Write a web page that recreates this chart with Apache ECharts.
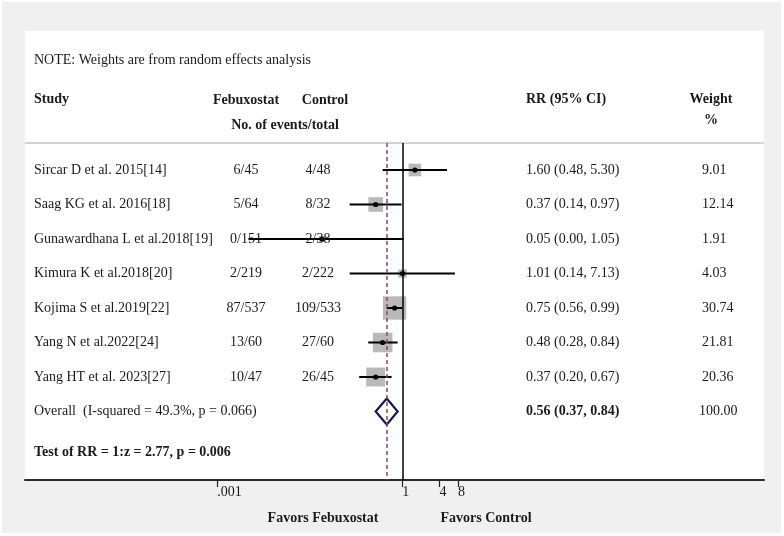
<!DOCTYPE html>
<html>
<head>
<meta charset="utf-8">
<script src="https://cdn.jsdelivr.net/npm/echarts@6/dist/echarts.min.js"></script>
<style>
  html, body { margin: 0; padding: 0; background: #fff; }
  #chart { width: 784px; height: 536px; }
</style>
</head>
<body>
<div id="chart"></div>
<script>
// study data
const studies = [
  "Sircar D et al. 2015[14]",
  "Saag KG et al. 2016[18]",
  "Gunawardhana L et al.2018[19]",
  "Kimura K et al.2018[20]",
  "Kojima S et al.2019[22]",
  "Yang N et al.2022[24]",
  "Yang HT et al. 2023[27]"
];
const febuxostat = ["6/45", "5/64", "0/151", "2/219", "87/537", "13/60", "10/47"];
const control = ["4/48", "8/32", "2/38", "2/222", "109/533", "27/60", "26/45"];
const rr = [1.60, 0.37, 0.05, 1.01, 0.75, 0.48, 0.37];
const ciLow = [0.48, 0.14, 0.0032, 0.14, 0.56, 0.28, 0.20];
const ciHigh = [5.30, 0.97, 1.05, 7.13, 0.99, 0.84, 0.67];
const weights = [9.01, 12.14, 1.91, 4.03, 30.74, 21.81, 20.36];

const overall = { label: "Overall  (I-squared = 49.3%, p = 0.066)", rr: 0.56, low: 0.37, high: 0.84, weight: "100.00" };
const testLine = "Test of RR = 1:z = 2.77, p = 0.006";

const tickValues = [0.001, 1, 4, 8];
const tickLabels = [".001", "1", "4", "8"];

const FONT = "'Liberation Serif', 'Times New Roman', serif";
const INK = "#1a1a1a";
const lg = v => Math.log10(v);
const fmt = v => v.toFixed(2);

const chart = echarts.init(document.getElementById("chart"));

// forest rows: [logRR, logLow, logHigh, row, weight]
const forestData = rr.map((v, i) => [lg(v), lg(ciLow[i]), lg(ciHigh[i]), i, weights[i]]);
const tableData = studies.map((s, i) => [0, i]);
tableData.push([0, studies.length]);

function renderForest(params, api) {
  const y = api.coord([0, api.value(3)])[1];
  const x = api.coord([api.value(0), 0])[0];
  const x0 = api.coord([api.value(1), 0])[0];
  const x1 = api.coord([api.value(2), 0])[0];
  const side = 4.2 * Math.sqrt(api.value(4));
  return {
    type: "group",
    children: [
      { type: "rect", shape: { x: x - side / 2, y: y - side / 2, width: side, height: side }, style: { fill: "#b9b9b9" } },
      { type: "line", shape: { x1: x0, y1: y, x2: x1, y2: y }, style: { stroke: "#000", lineWidth: 2 } },
      { type: "circle", shape: { cx: x, cy: y, r: 2.6 }, style: { fill: "#000" } }
    ]
  };
}

function renderDiamond(params, api) {
  const y = api.coord([0, api.value(3)])[1];
  const x = api.coord([api.value(0), 0])[0];
  const x0 = api.coord([api.value(1), 0])[0];
  const x1 = api.coord([api.value(2), 0])[0];
  const h = 13;
  return {
    type: "polygon",
    shape: { points: [[x0, y], [x, y - h], [x1, y], [x, y + h]] },
    style: { fill: "none", stroke: "#16165c", lineWidth: 2.2 }
  };
}

function txt(x, y, text, opts) {
  return {
    type: "text", x: x, y: y,
    style: Object.assign({ text: text, fill: INK, font: "14px " + FONT, textVerticalAlign: "middle", textAlign: "left" }, opts || {})
  };
}

function renderTable(params, api) {
  const i = api.value(1);
  const y = api.coord([0, i])[1];
  if (i < studies.length) {
    return {
      type: "group",
      children: [
        txt(34, y, studies[i]),
        txt(246, y, febuxostat[i], { textAlign: "center" }),
        txt(318, y, control[i], { textAlign: "center" }),
        txt(526, y, fmt(rr[i]) + " (" + fmt(ciLow[i]) + ", " + fmt(ciHigh[i]) + ")"),
        txt(702, y, fmt(weights[i]))
      ]
    };
  }
  return {
    type: "group",
    children: [
      txt(34, y, overall.label),
      txt(526, y, fmt(overall.rr) + " (" + fmt(overall.low) + ", " + fmt(overall.high) + ")", { font: "bold 14px " + FONT }),
      txt(699, y, overall.weight)
    ]
  };
}

const tickLogs = tickValues.map(lg);
const labelFor = v => {
  const k = tickLogs.findIndex(t => Math.abs(t - v) < 1e-6);
  return k >= 0 ? tickLabels[k] : "";
};

const bold = "bold 14px " + FONT;
const option = {
  animation: false,
  backgroundColor: "#fff",
  graphic: [
    { type: "rect", z: -10, shape: { x: 2, y: 2, width: 779, height: 531 }, style: { fill: "#f0f0f0" } },
    { type: "rect", z: -9, shape: { x: 25, y: 31, width: 739, height: 449 }, style: { fill: "#fff" } },
    { type: "line", z: -8, shape: { x1: 25, y1: 143, x2: 764, y2: 143 }, style: { stroke: "#c4c4c4", lineWidth: 1.5 } },
    txt(34, 60, "NOTE: Weights are from random effects analysis"),
    txt(34, 99, "Study", { font: bold }),
    txt(246, 100, "Febuxostat", { font: bold, textAlign: "center" }),
    txt(325, 100, "Control", { font: bold, textAlign: "center" }),
    txt(285, 125, "No. of events/total", { font: bold, textAlign: "center" }),
    txt(526, 99, "RR (95% CI)", { font: bold }),
    txt(711, 99, "Weight", { font: bold, textAlign: "center" }),
    txt(711, 120, "%", { font: bold, textAlign: "center" }),
    txt(34, 452, testLine, { font: bold }),
    txt(323, 518, "Favors Febuxostat", { font: bold, textAlign: "center" }),
    txt(486, 518, "Favors Control", { font: bold, textAlign: "center" })
  ].map(g => Object.assign({ silent: true }, g)),
  grid: { left: 25, right: 20, top: 143, bottom: 56 },
  xAxis: {
    type: "value",
    min: -6.118,
    max: 5.865,
    splitLine: { show: false },
    axisLine: { show: true, onZero: false, lineStyle: { color: "#2a2a2a", width: 2 } },
    axisTick: { show: true, customValues: tickLogs, length: 7, lineStyle: { color: "#222", width: 1.2 } },
    axisLabel: {
      customValues: tickLogs,
      formatter: labelFor,
      align: "left",
      margin: 5,
      color: INK,
      fontFamily: FONT,
      fontSize: 14
    }
  },
  yAxis: { type: "value", inverse: true, min: -0.7826, max: 8.9855, show: false },
  series: [
    {
      type: "line",
      data: [],
      silent: true,
      z: 1,
      markLine: {
        silent: true,
        symbol: "none",
        label: { show: false },
        data: [
          { xAxis: 0, lineStyle: { color: "#000", width: 1.5, type: "solid" } },
          { xAxis: lg(overall.rr), lineStyle: { color: "#8a4a5a", width: 1.5, type: [4, 3] } }
        ]
      }
    },
    { type: "custom", name: "studies", renderItem: renderForest, data: forestData, z: 3, silent: true },
    { type: "custom", name: "overall", renderItem: renderDiamond, data: [[lg(overall.rr), lg(overall.low), lg(overall.high), studies.length]], z: 4, silent: true },
    { type: "custom", name: "table", renderItem: renderTable, data: tableData, z: 5, silent: true }
  ]
};

chart.setOption(option);
</script>
</body>
</html>
